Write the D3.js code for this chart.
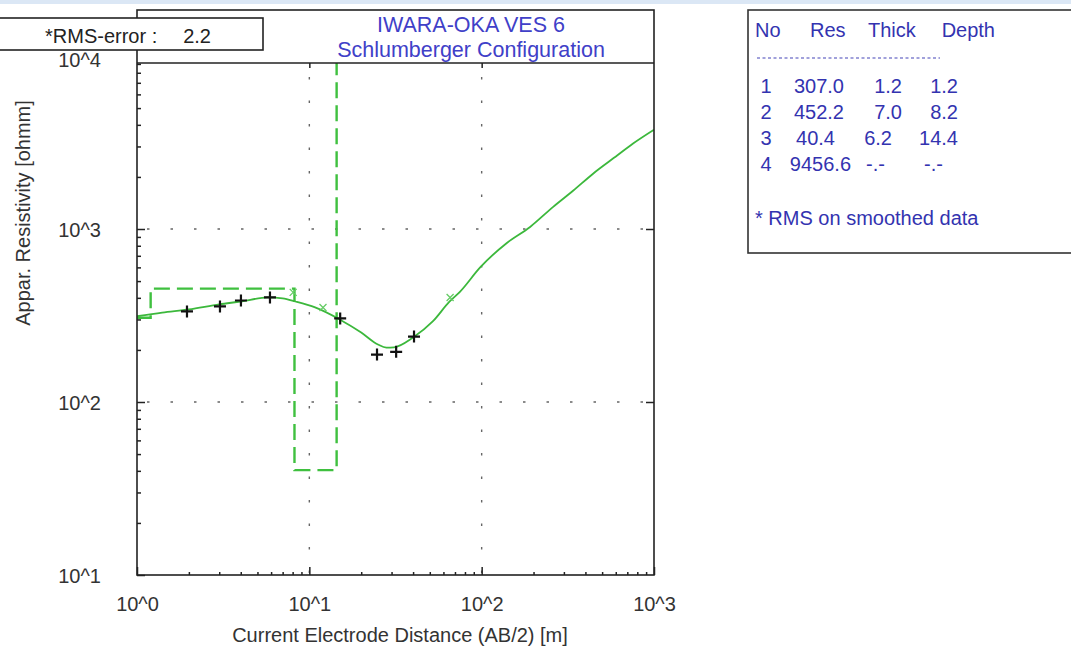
<!DOCTYPE html>
<html><head><meta charset="utf-8">
<script src="https://cdn.jsdelivr.net/npm/d3@7"></script>
<style>
html,body{margin:0;padding:0;background:#fff;}
svg{display:block;font-family:"Liberation Sans",Arial,sans-serif;}
text{white-space:pre;}
</style></head><body>
<svg id="c" width="1071" height="652"></svg>
<script>
// ---- data ----
const titleLines = ["IWARA-OKA VES 6", "Schlumberger Configuration"];
const rmsLabel = "*RMS-error :";
const rmsValue = "2.2";
const xTicks = [1, 10, 100, 1000];
const yTicks = [10, 100, 1000, 10000];
// field data (AB/2 [m], apparent resistivity [ohmm])
const fieldAB = [1.95, 3.03, 4.01, 5.91, 15.1, 24.7, 31.9, 40.5];
const fieldRho = [334, 357, 386, 402, 304, 188, 195, 239];
// smoothed data points (green x)
const smoothAB = [8.06, 12.0, 65.6];
const smoothRho = [430, 352, 402];
// model response curve
const curveAB = [1, 1.4, 2, 3, 4, 5.75, 7, 8.3, 10.8, 15, 20, 25, 28, 31, 40, 52, 65, 75, 98, 140, 191, 260, 339, 443, 611, 756, 1000];
const curveRho = [313, 329, 343, 367, 381, 402, 397, 381, 352, 300, 252, 215, 206, 207, 236, 292, 380, 435, 600, 830, 1028, 1343, 1663, 2088, 2657, 3120, 3750];
// layer model
const layerNo = [1, 2, 3, 4];
const layerRes = [307.0, 452.2, 40.4, 9456.6];
const layerThick = [1.2, 7.0, 6.2];
const layerDepth = [1.2, 8.2, 14.4];

const FS = 20;
const svg = d3.select("#c");
const L = 137, R = 654, T = 63, B = 575;
const x = d3.scaleLog().domain([1, 1000]).range([137, 654]);
const y = d3.scaleLog().domain([10, 10000]).range([575, 56]);
const sup = d => "10^" + Math.round(Math.log10(d));

// light top band
svg.append("rect").attr("x",0).attr("y",0).attr("width",1071).attr("height",4).attr("fill","#dbe7f5");

// clip
svg.append("defs").append("clipPath").attr("id","plotclip")
  .append("rect").attr("x",L).attr("y",T).attr("width",R-L).attr("height",B-T);

// grid (dotted)
const grid = svg.append("g").attr("stroke","#666").attr("stroke-width",1.4).attr("stroke-dasharray","2.5,21");
xTicks.slice(1,-1).forEach(v => grid.append("line").attr("x1",x(v)).attr("x2",x(v)).attr("y1",B-2).attr("y2",T));
yTicks.slice(1,-1).forEach(v => grid.append("line").attr("x1",L+10).attr("x2",R).attr("y1",y(v)).attr("y2",y(v)));

// minor tick values
const minors = (lo, hi) => { const a=[]; for (let e=lo; e<hi; e++) for (let m=2; m<10; m++) a.push(m*Math.pow(10,e)); return a; };

// axes
const axCol = "#222";
const gL = svg.append("g").attr("transform",`translate(${L},0)`)
  .call(d3.axisLeft(y).tickValues(yTicks.slice(0,3)).tickFormat(sup).tickSize(-8).tickPadding(36));
const gLm = svg.append("g").attr("transform",`translate(${L},0)`)
  .call(d3.axisLeft(y).tickValues(minors(1,4).filter(v=>y(v)>T)).tickFormat("").tickSize(-4));
const gB = svg.append("g").attr("transform",`translate(0,${B})`)
  .call(d3.axisBottom(x).tickValues(xTicks).tickFormat(sup).tickSize(-8).tickPadding(22));
const gBm = svg.append("g").attr("transform",`translate(0,${B})`)
  .call(d3.axisBottom(x).tickValues(minors(0,3)).tickFormat("").tickSize(-3));
const gT = svg.append("g").attr("transform",`translate(0,${T})`)
  .call(d3.axisTop(x).tickValues(xTicks.slice(1,-1)).tickFormat("").tickSize(-5));
const gR = svg.append("g").attr("transform",`translate(${R},0)`)
  .call(d3.axisRight(y).tickValues(yTicks.slice(1,-1)).tickFormat("").tickSize(-8));
[gL,gLm,gB,gBm,gT,gR].forEach(g => {
  g.select(".domain").remove();
  g.selectAll(".tick line").attr("stroke",axCol).attr("stroke-width",1.5);
  g.selectAll("text").attr("fill","#333").attr("font-size",FS).attr("font-family","'Liberation Sans',Arial,sans-serif");
});
gL.selectAll("text").attr("dy","0.35em");

// layer model step (dashed)
const stepPts = [];
const bounds = [x.domain()[0], ...layerDepth, x.domain()[1]];
layerRes.forEach((r,i) => { stepPts.push([bounds[i], r]); stepPts.push([bounds[i+1], r]); });
const plot = svg.append("g").attr("clip-path","url(#plotclip)");
plot.append("path").attr("d", d3.line().x(d=>x(d[0])).y(d=>y(d[1]))(stepPts))
  .attr("fill","none").attr("stroke","#3fc03f").attr("stroke-width",2.4).attr("stroke-dasharray","16,7");

// model curve
const cpts = curveAB.map((a,i)=>[a,curveRho[i]]);
plot.append("path").attr("d", d3.line().x(d=>x(d[0])).y(d=>y(d[1])).curve(d3.curveMonotoneX)(cpts))
  .attr("fill","none").attr("stroke","#3cb83c").attr("stroke-width",1.8);

// smoothed x markers
smoothAB.forEach((a,i) => {
  const cx = x(a), cy = y(smoothRho[i]), s = 3.5;
  plot.append("path").attr("d",`M${cx-s},${cy-s}L${cx+s},${cy+s}M${cx-s},${cy+s}L${cx+s},${cy-s}`)
    .attr("stroke","#66cc66").attr("stroke-width",1.3);
});
// field + markers
fieldAB.forEach((a,i) => {
  const cx = x(a), cy = y(fieldRho[i]), s = 6;
  plot.append("path").attr("d",`M${cx-s},${cy}L${cx+s},${cy}M${cx},${cy-s}L${cx},${cy+s}`)
    .attr("stroke","#111").attr("stroke-width",2.2);
});

// frame
svg.append("rect").attr("x",L).attr("y",10).attr("width",R-L).attr("height",B-10)
  .attr("fill","none").attr("stroke","#222").attr("stroke-width",1.6);
svg.append("line").attr("x1",L).attr("x2",R).attr("y1",T).attr("y2",T).attr("stroke","#222").attr("stroke-width",1.6);

// title
titleLines.forEach((t,i) => svg.append("text").attr("x",471).attr("y",32+i*25).attr("text-anchor","middle")
  .attr("fill","#4040c8").attr("font-size",21.5).text(t));

// RMS box
svg.append("rect").attr("x",-2).attr("y",18).attr("width",265).attr("height",32)
  .attr("fill","#fff").attr("stroke","#222").attr("stroke-width",1.6);
svg.append("text").attr("x",45).attr("y",43).attr("fill","#222").attr("font-size",FS).text(rmsLabel);
svg.append("text").attr("x",211).attr("y",43).attr("text-anchor","end").attr("fill","#222").attr("font-size",FS).text(rmsValue);

// 10^4 label (above plot top, below RMS box)
svg.append("text").attr("x",L-36).attr("y",60).attr("dy","0.35em").attr("text-anchor","end")
  .attr("fill","#333").attr("font-size",FS).text(sup(yTicks[3]));

// axis titles
svg.append("text").attr("x",400).attr("y",642).attr("text-anchor","middle").attr("fill","#333").attr("font-size",FS)
  .text("Current Electrode Distance (AB/2) [m]");
svg.append("text").attr("transform","translate(30,213) rotate(-90)").attr("text-anchor","middle").attr("fill","#333").attr("font-size",FS)
  .text("Appar. Resistivity [ohmm]");

// layer table
const tb = svg.append("g").attr("fill","#3333b0").attr("font-size",FS);
svg.append("rect").attr("x",748).attr("y",10).attr("width",330).attr("height",243)
  .attr("fill","none").attr("stroke","#333").attr("stroke-width",1.6);
const hdr = [["No",755],["Res",810],["Thick",868],["Depth",937]];
hdr.forEach(h => tb.append("text").attr("x",h[0]==="Depth"?995:h[1]).attr("y",37)
  .attr("text-anchor",h[0]==="Depth"?"end":"start").text(h[0]));
svg.append("line").attr("x1",757).attr("x2",940).attr("y1",58).attr("y2",58)
  .attr("stroke","#4444b8").attr("stroke-width",1.2).attr("stroke-dasharray","3,2.5");
const rowY = [93, 119, 145, 171];
const fmt1 = d3.format(".1f");
const resEnd = [844, 844, 835, 851];
const thickEnd = [902, 902, 892, 885];
const depthEnd = [958, 958, 958, 943];
layerNo.forEach((n,i) => {
  tb.append("text").attr("x",766).attr("y",rowY[i]).attr("text-anchor","middle").text(n);
  tb.append("text").attr("x",resEnd[i]).attr("y",rowY[i]).attr("text-anchor","end").text(fmt1(layerRes[i]));
  tb.append("text").attr("x",thickEnd[i]).attr("y",rowY[i]).attr("text-anchor","end").text(i<3?fmt1(layerThick[i]):"-.-");
  tb.append("text").attr("x",depthEnd[i]).attr("y",rowY[i]).attr("text-anchor","end").text(i<3?fmt1(layerDepth[i]):"-.-");
});
tb.append("text").attr("x",755).attr("y",225).text("* RMS on smoothed data");
</script>
</body></html>
